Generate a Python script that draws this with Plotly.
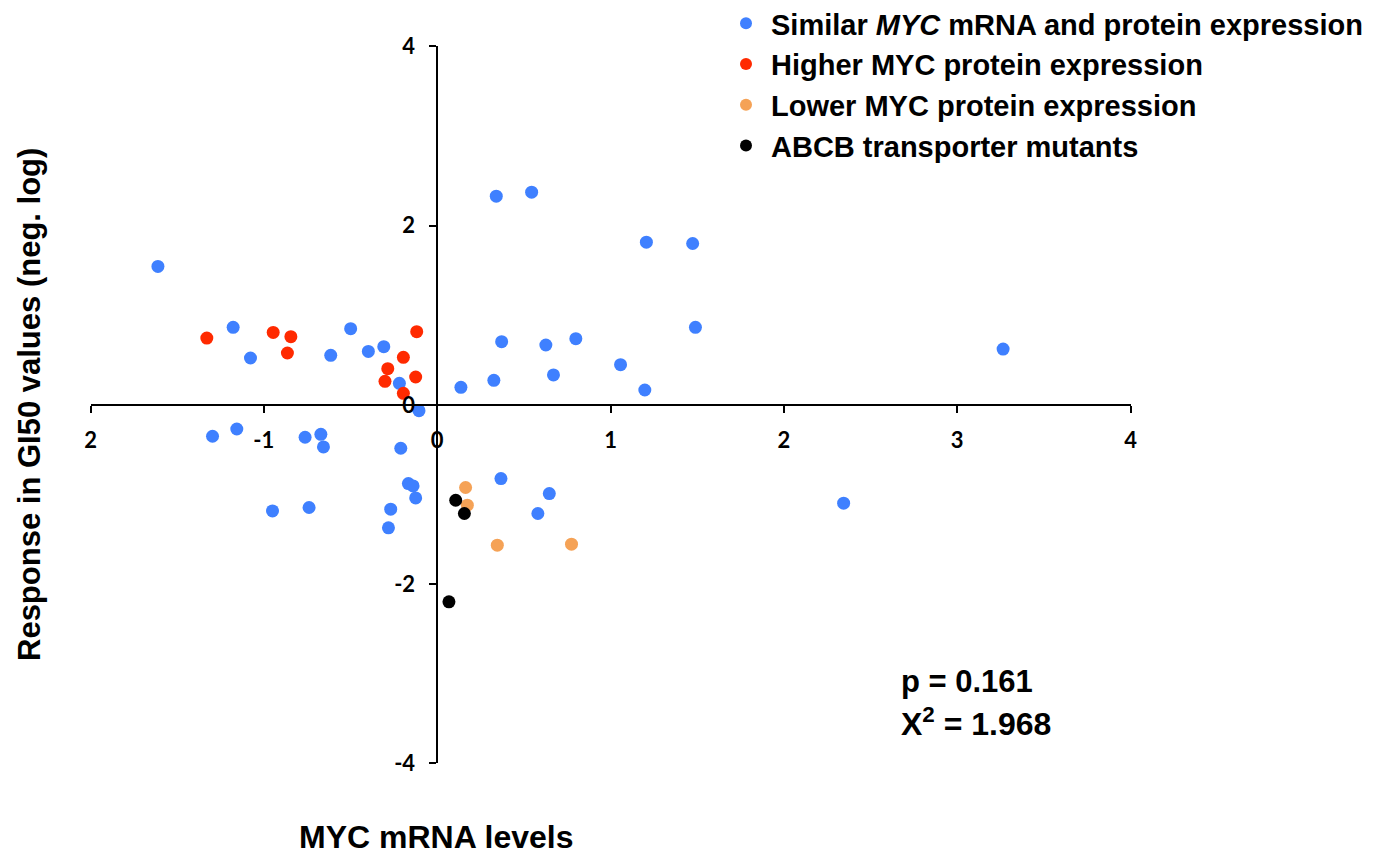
import plotly.graph_objects as go

# ---- data ----
similar_x = [-1.611, -1.177, -1.077, -0.614, -0.499, -0.397, -0.308, -0.218, -0.105,
             0.341, 0.545, 1.207, 1.474, 1.490, 0.372, 0.627, 0.800, 1.058, 0.137,
             0.327, 0.671, 1.198, 3.265,
             -1.296, -1.156, -0.762, -0.671, -0.656, -0.210, -0.166, -0.139, -0.124,
             -0.950, -0.739, -0.268, -0.281, 0.368, 0.647, 0.581, 2.345]
similar_y = [1.544, 0.864, 0.522, 0.552, 0.849, 0.596, 0.649, 0.240, -0.066,
             2.328, 2.372, 1.815, 1.800, 0.864, 0.704, 0.667, 0.738, 0.448, 0.195,
             0.273, 0.333, 0.165, 0.622,
             -0.351, -0.270, -0.362, -0.329, -0.470, -0.485, -0.879, -0.905, -1.039,
             -1.184, -1.146, -1.165, -1.373, -0.823, -0.990, -1.213, -1.098]

higher_x = [-1.329, -0.946, -0.844, -0.864, -0.118, -0.195, -0.285, -0.301, -0.124, -0.195]
higher_y = [0.745, 0.808, 0.760, 0.578, 0.816, 0.530, 0.403, 0.262, 0.310, 0.128]

lower_x = [0.164, 0.174, 0.347, 0.775]
lower_y = [-0.923, -1.120, -1.566, -1.555]

abcb_x = [0.107, 0.157, 0.068]
abcb_y = [-1.065, -1.213, -2.198]

x_ticks = [-2, -1, 0, 1, 2, 3, 4]
x_ticklabels = ["2", "-1", "0", "1", "2", "3", "4"]
y_ticks = [-4, -2, 0, 2, 4]
y_ticklabels = ["-4", "-2", "0", "2", "4"]

series_names = ["Similar <i>MYC</i> mRNA and protein expression",
                "Higher MYC protein expression",
                "Lower MYC protein expression",
                "ABCB transporter mutants"]
colors = ["#3F80FF", "#FF2A00", "#F5A256", "#000000"]

W, H = 1387, 855
fig = go.Figure()
for i, (xs, ys) in enumerate([(similar_x, similar_y), (higher_x, higher_y),
                               (lower_x, lower_y), (abcb_x, abcb_y)]):
    fig.add_trace(go.Scatter(x=xs, y=ys, mode="markers", name=series_names[i],
                             legendgroup=f"g{i}",
                             marker=dict(color=colors[i], size=13, line=dict(width=0))))

# pixel geometry
x_left, x_right = 90.5, 1130.5
y_top, y_bot = 46.3, 763.3
x0_px = 436.5
y0_px = 404.5

tick_font = dict(family="Lato", size=22, color="black", weight="bold")
fig.update_layout(
    width=W, height=H,
    margin=dict(l=0, r=0, t=0, b=0, autoexpand=False),
    paper_bgcolor="white", plot_bgcolor="white",
    showlegend=True,
    legend=dict(x=721 / W, y=1 + 2 / H, xanchor="left", yanchor="top",
                font=dict(family="Liberation Sans", size=29, color="black", weight="bold"),
                tracegroupgap=0, itemsizing="constant", itemwidth=40,
                bgcolor="rgba(0,0,0,0)"),
    xaxis=dict(range=[-2, 4], domain=[x_left / W, x_right / W], anchor="free",
               position=1 - y0_px / H, showgrid=False, zeroline=False,
               showline=True, linecolor="black", linewidth=2,
               ticks="outside", ticklen=7, tickwidth=2, tickcolor="black",
               tickvals=x_ticks, ticktext=x_ticklabels, tickfont=tick_font,
               ticklabelstandoff=9, automargin=False, fixedrange=True),
    yaxis=dict(range=[-4, 4], domain=[1 - y_bot / H, 1 - y_top / H], anchor="free",
               position=x0_px / W, showgrid=False, zeroline=False,
               showline=True, linecolor="black", linewidth=2,
               ticks="outside", ticklen=7, tickwidth=2, tickcolor="black",
               tickvals=y_ticks, ticktext=y_ticklabels, tickfont=tick_font,
               ticklabelstandoff=9, automargin=False, fixedrange=True),
)

fig.add_annotation(text="Response in GI50 values (neg. log)", xref="paper", yref="paper",
                   x=30 / W, y=1 - 405 / H, textangle=-90, showarrow=False,
                   font=dict(family="Liberation Sans", size=31, color="black", weight="bold"),
                   xanchor="center", yanchor="middle")
fig.add_annotation(text="MYC mRNA levels", xref="paper", yref="paper",
                   x=436 / W, y=1 - 837 / H, showarrow=False,
                   font=dict(family="Liberation Sans", size=32, color="black", weight="bold"),
                   xanchor="center", yanchor="middle")
fig.add_annotation(text="p = 0.161", xref="paper", yref="paper",
                   x=899 / W, y=1 - 681 / H, showarrow=False,
                   font=dict(family="Liberation Sans", size=31, color="black", weight="bold"),
                   xanchor="left", yanchor="middle")
fig.add_annotation(text="X<sup>2</sup> = 1.968", xref="paper", yref="paper",
                   x=899 / W, y=1 - 722 / H, showarrow=False,
                   font=dict(family="Liberation Sans", size=32, color="black", weight="bold"),
                   xanchor="left", yanchor="middle")

fig.write_html("out.html", config={"displayModeBar": False},
               post_script="document.body.style.margin='0';document.body.style.overflow='hidden';")
